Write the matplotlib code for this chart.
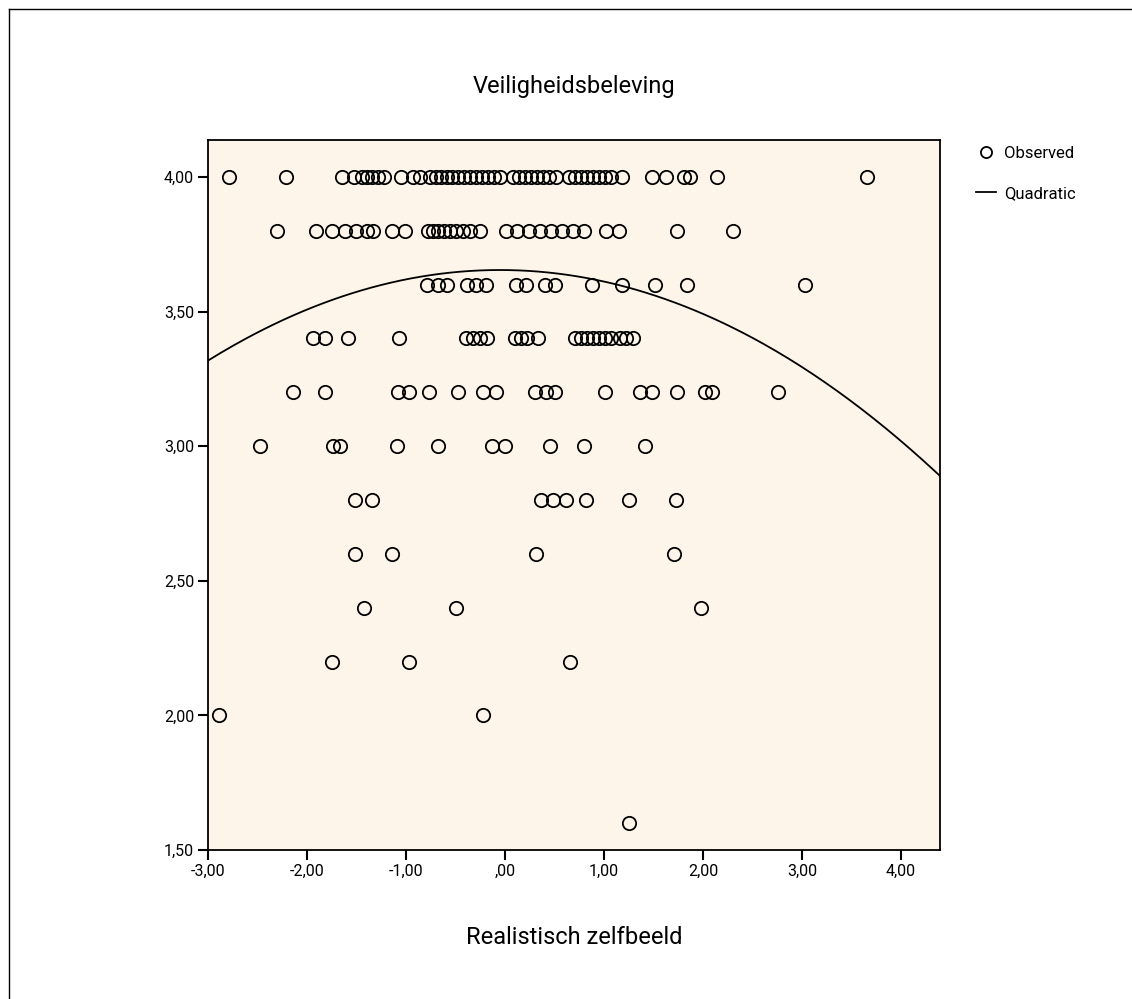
import matplotlib
matplotlib.use("Agg")
import matplotlib.pyplot as plt
import numpy as np
from matplotlib.lines import Line2D

plt.rcParams['font.family'] = ['Roboto', 'DejaVu Sans']

# Data: y levels and x values (Realistisch zelfbeeld) per level
y_levels = [4.00, 3.80, 3.60, 3.40, 3.20, 3.00, 2.80, 2.60, 2.40, 2.20, 2.00, 1.60]
x_400 = [-2.79, -2.21, -1.65, -1.53, -1.44, -1.39, -1.34, -1.28, -1.22, -1.05, -0.93, -0.86,
         -0.76, -0.70, -0.65, -0.59, -0.54, -0.47, -0.41, -0.35, -0.29, -0.23, -0.17, -0.11,
         -0.05, 0.08, 0.14, 0.20, 0.26, 0.32, 0.38, 0.44, 0.52, 0.65, 0.71, 0.77, 0.83, 0.89,
         0.95, 1.01, 1.07, 1.18, 1.48, 1.63, 1.81, 1.87, 2.14, 3.66]
x_380 = [-2.30, -1.91, -1.75, -1.62, -1.51, -1.39, -1.33, -1.14, -1.01, -0.78, -0.73, -0.68,
         -0.62, -0.56, -0.49, -0.42, -0.35, -0.25, 0.01, 0.12, 0.24, 0.35, 0.46, 0.58, 0.69,
         0.80, 1.02, 1.15, 1.74, 2.30]
x_360 = [-0.79, -0.68, -0.59, -0.38, -0.29, -0.19, 0.11, 0.21, 0.40, 0.51, 0.88, 1.18, 1.52,
         1.84, 3.03]
x_340 = [-1.94, -1.82, -1.59, -1.07, -0.39, -0.32, -0.25, -0.18, 0.10, 0.16, 0.22, 0.33, 0.71,
         0.77, 0.83, 0.89, 0.95, 1.01, 1.07, 1.16, 1.22, 1.29]
x_320 = [-2.14, -1.82, -1.08, -0.97, -0.77, -0.47, -0.22, -0.09, 0.30, 0.41, 0.51, 1.01, 1.36,
         1.48, 1.74, 2.02, 2.09, 2.76]
x_300 = [-2.47, -1.74, -1.67, -1.09, -0.68, -0.13, 0.00, 0.45, 0.80, 1.41]
x_280 = [-1.52, -1.34, 0.36, 0.48, 0.62, 0.82, 1.25, 1.73]
x_260 = [-1.52, -1.14, 0.31, 1.71]
x_240 = [-1.42, -0.49, 1.98]
x_220 = [-1.75, -0.97, 0.66]
x_200 = [-2.89, -0.22]
x_160 = [1.25]
x_groups = [x_400, x_380, x_360, x_340, x_320, x_300, x_280, x_260, x_240, x_220, x_200, x_160]

# Quadratic fit coefficients (a + b*x + c*x^2)
quad_coef = [3.654, -0.004, -0.0387]

x_ticks = [-3, -2, -1, 0, 1, 2, 3, 4]
x_ticklabels = ["-3,00", "-2,00", "-1,00", ",00", "1,00", "2,00", "3,00", "4,00"]
y_ticks = [1.5, 2.0, 2.5, 3.0, 3.5, 4.0]
y_ticklabels = ["1,50", "2,00", "2,50", "3,00", "3,50", "4,00"]

W, H = 1132, 999
fig = plt.figure(figsize=(W / 100, H / 100), dpi=100)
fig.patch.set_facecolor("white")

# outer frame (left and top edges visible)
fig.add_artist(Line2D([8.5 / W, 8.5 / W], [0, 1 - 8.5 / H], transform=fig.transFigure,
                      color="black", linewidth=1.0))
fig.add_artist(Line2D([8.5 / W, 1], [1 - 8.5 / H, 1 - 8.5 / H], transform=fig.transFigure,
                      color="black", linewidth=1.0))

ax = fig.add_axes([208 / W, 1 - 850 / H, (940 - 208) / W, (850 - 140) / H])
ax.set_facecolor("#FEF5EA")

xs = []
ys = []
for yv, grp in zip(y_levels, x_groups):
    xs.extend(grp)
    ys.extend([yv] * len(grp))

ax.plot(xs, ys, linestyle="none", marker="o", ms=9.6, mfc="none", mec="black",
        mew=1.3, zorder=3)

xlim = (-3.0, 4.394)
ylim = (1.5, 4.137)
xx = np.linspace(xlim[0], xlim[1], 300)
yy = quad_coef[0] + quad_coef[1] * xx + quad_coef[2] * xx ** 2
ax.plot(xx, yy, color="black", linewidth=1.3, zorder=2)

ax.set_xlim(*xlim)
ax.set_ylim(*ylim)
ax.set_xticks(x_ticks)
ax.set_xticklabels(x_ticklabels)
ax.set_yticks(y_ticks)
ax.set_yticklabels(y_ticklabels)
ax.tick_params(axis="both", direction="out", length=7, width=1.5, labelsize=11.5,
               color="black", pad=3)
for s in ax.spines.values():
    s.set_linewidth(1.3)
    s.set_color("black")

fig.text(574 / W, 1 - 87 / H, "Veiligheidsbeleving", ha="center", va="center", fontsize=17)
fig.text(574 / W, 1 - 937 / H, "Realistisch zelfbeeld", ha="center", va="center", fontsize=17)

handles = [Line2D([], [], linestyle="none", marker="o", ms=8, mfc="none", mec="black", mew=1.3),
           Line2D([], [], color="black", linewidth=1.3)]
fig.legend(handles, ["Observed", "Quadratic"], loc="upper left",
           bbox_to_anchor=(961 / W, 1 - 131 / H), frameon=False, fontsize=12,
           handlelength=1.2, handletextpad=0.5, labelspacing=1.5)

fig.savefig("out.png", dpi=100)
